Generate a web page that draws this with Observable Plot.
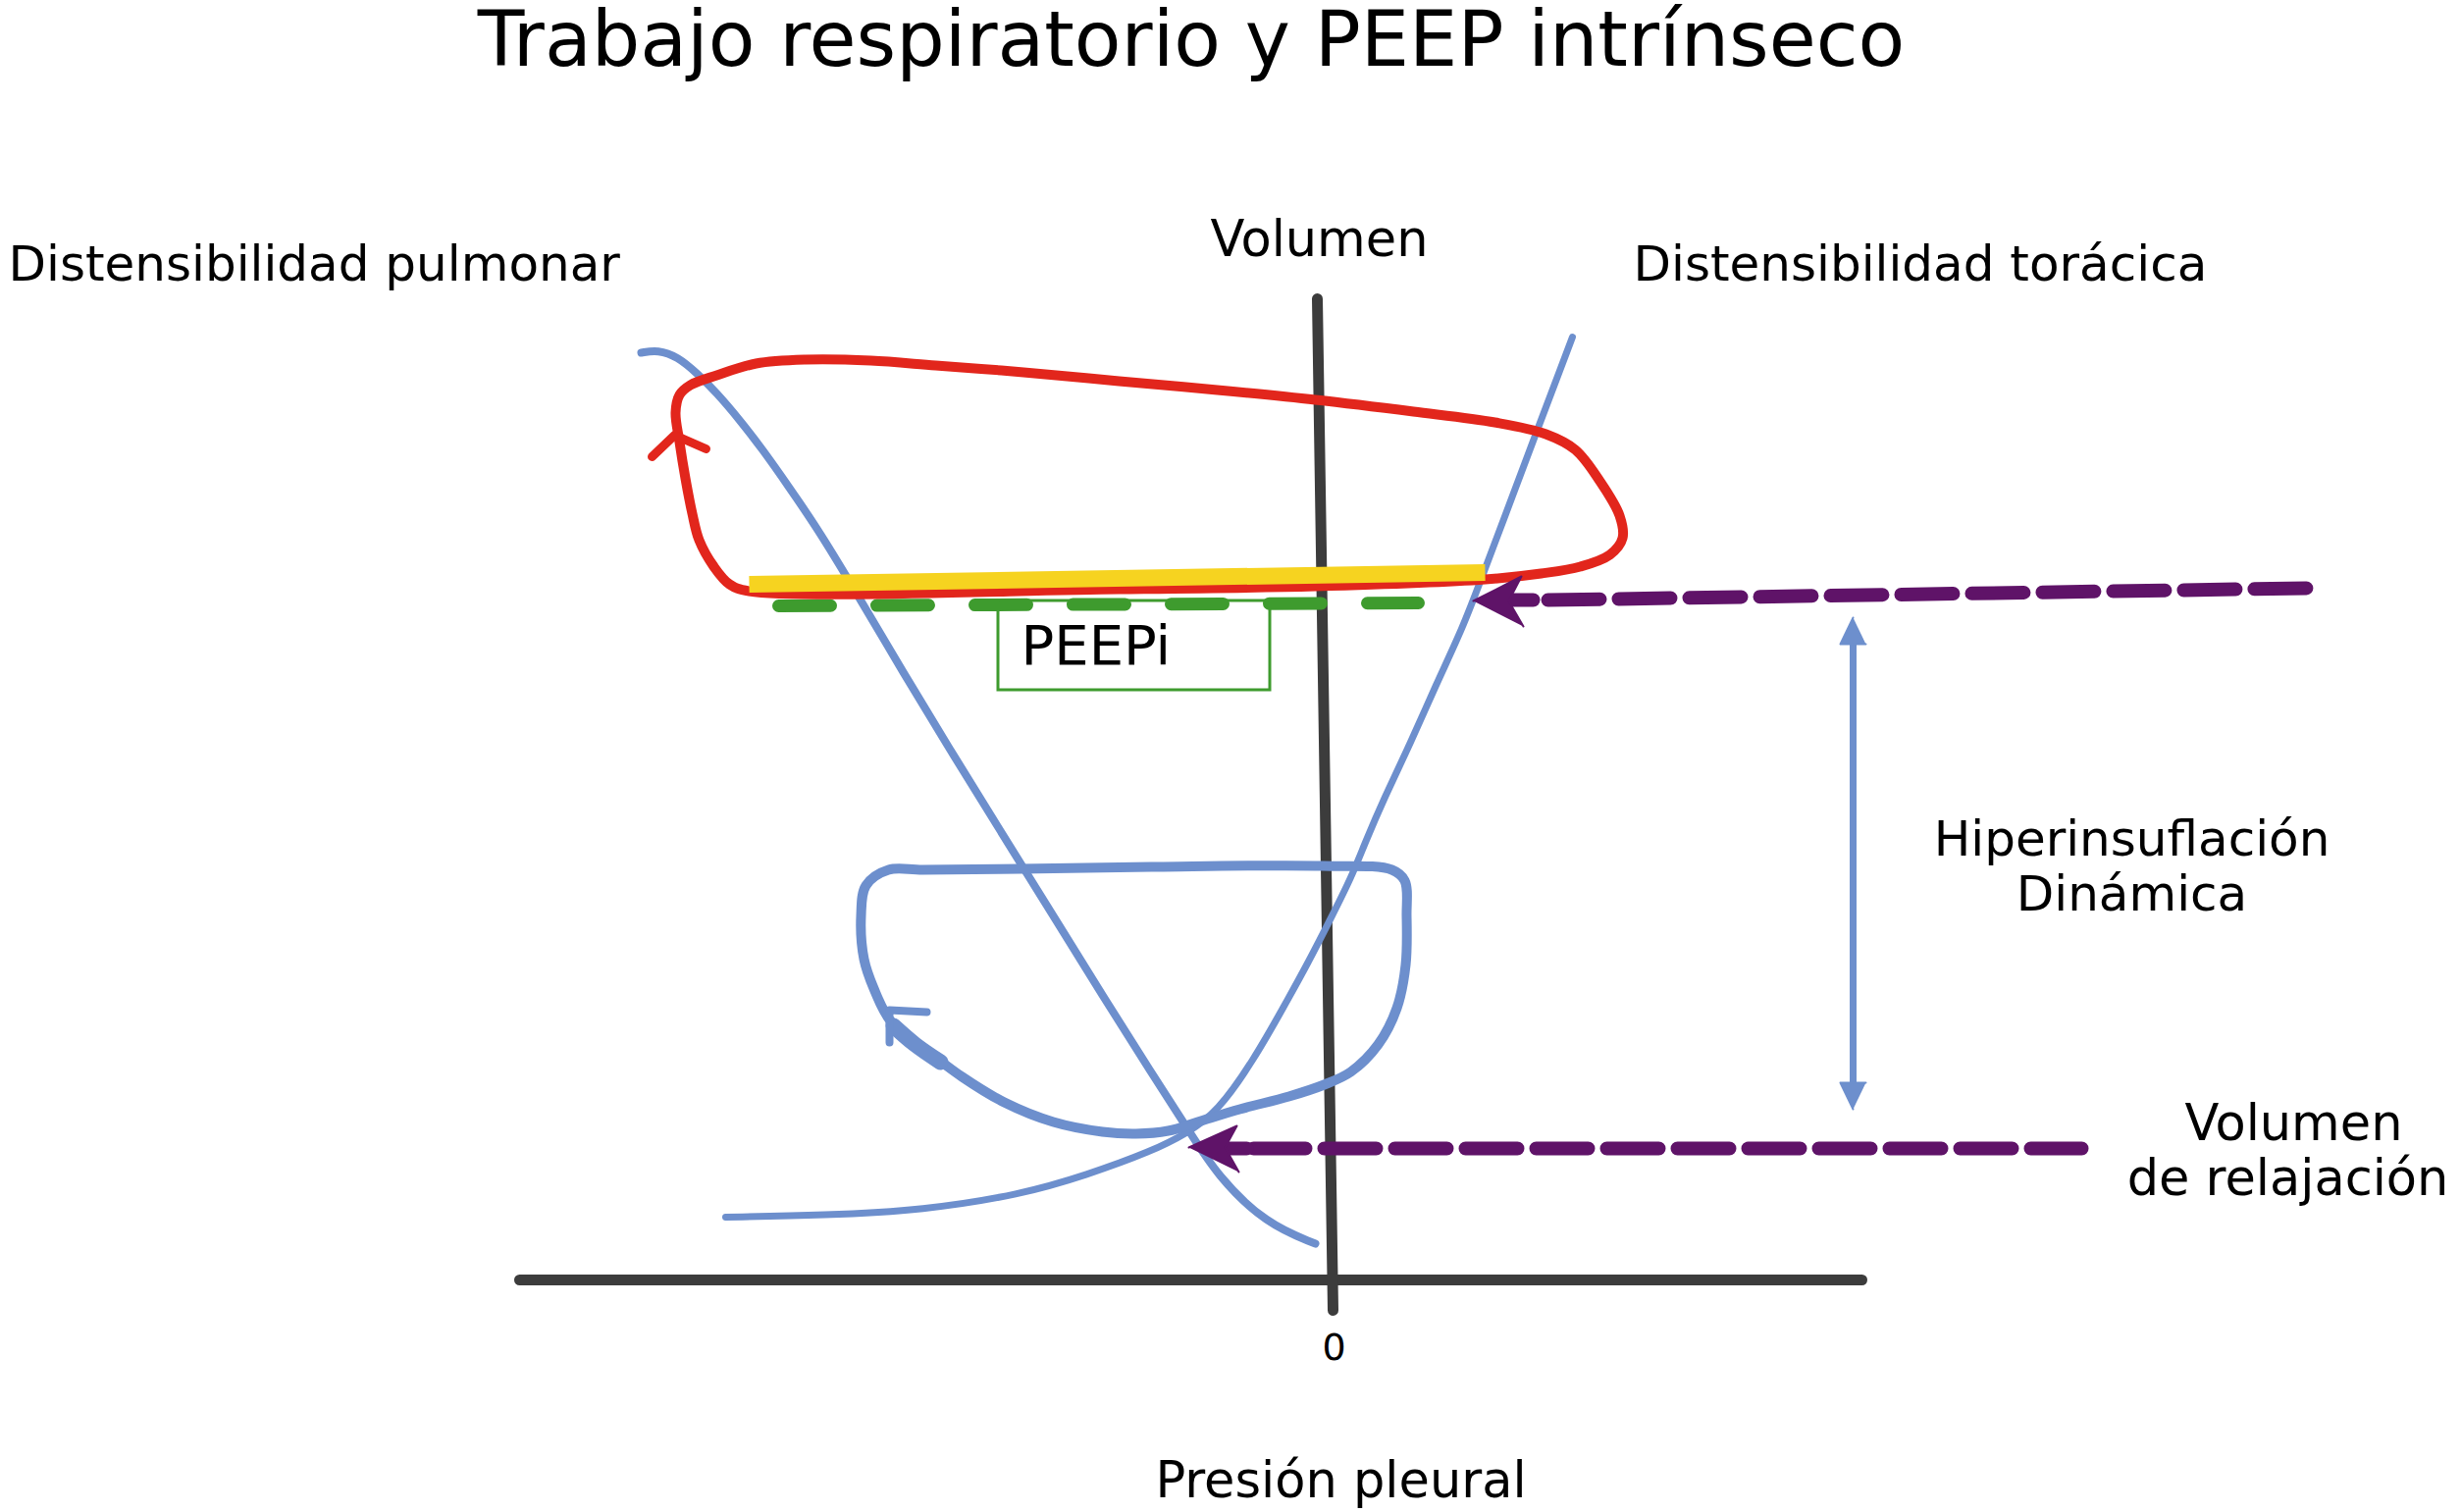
<!DOCTYPE html>
<html><head><meta charset="utf-8">
<script src="https://cdn.jsdelivr.net/npm/d3@7"></script>
<script src="https://cdn.jsdelivr.net/npm/@observablehq/plot@0.6"></script>
<style>
html,body{margin:0;padding:0;background:#fff;overflow:hidden}
#title{height:100px;font-family:"DejaVu Sans";font-size:78px;line-height:80px;text-align:center;padding-right:80px;color:#000;white-space:nowrap}
</style></head><body>
<div id="title">Trabajo respiratorio y PEEP intrínseco</div>
<div id="chart"></div>
<script>
// Diagram coordinates: x = presión pleural (0 at the volume axis), y = volumen (0 at the pressure axis)
const pressureAxis = [[-82.9, 0], [53.9, 0]];
const volumeAxis = [[-1.6, 100], [0, -3.1]];

const lungCompliance = [[-70.5,94.5],[-68.8,94.8],[-66.8,94.1],[-64.8,92.4],[-62.8,90.4],[-60.5,87.7],[-58.1,84.6],[-55.5,80.9],[-52.5,76.5],[-49.5,71.6],[-43.5,61.4],[-39.0,54.0],[-34.6,46.9],[-28.5,37.1],[-23.5,29.0],[-18.5,21.1],[-14.8,15.4],[-11.8,10.6],[-6.8,5.7],[-1.8,3.7]];

const chestCompliance = [[-61.9,6.4],[-51.8,6.6],[-41.8,7.1],[-31.8,8.7],[-25.1,10.7],[-18.5,13.1],[-14.8,15.0],[-11.8,17.1],[-8.1,22.4],[-5.1,27.7],[-2.5,32.4],[-0.1,37.1],[1.9,41.1],[3.2,44.4],[5.2,49.1],[7.9,54.7],[10.5,60.7],[13.2,66.4],[15.2,71.7],[17.2,77.0],[20.5,85.8],[24.4,96.1]];

const normalLoop = [[-20.1,14.9],[-23.5,15.1],[-28.5,16.1],[-33.5,18.1],[-37.8,20.7],[-41.8,23.7],[-45.1,26.4],[-46.8,29.7],[-47.8,32.7],[-48.1,37.1],[-47.6,40.2],[-45.3,41.8],[-41.8,41.8],[-31.8,41.9],[-18.5,42.1],[-1.1,42.2],[6.0,41.8],[7.3,40.7],[7.5,37.1],[7.4,32.1],[6.5,27.7],[4.6,24.0],[1.8,21.2],[-0.9,19.9],[-4.5,18.7],[-9.5,17.4],[-13.8,16.1],[-16.8,15.2]];
const normalLoopArrowBody = [[-44.8,25.9],[-42.6,24.0],[-40.0,22.2]];
const normalLoopArrowHead = [[-45.2,24.2],[-45.2,27.5],[-41.4,27.3]];

const hyperLoop = [[-59.5,70.2],[-61.5,70.9],[-63.1,72.7],[-64.6,75.4],[-65.3,78.1],[-66.0,81.7],[-66.6,85.4],[-67.0,88.4],[-66.6,90.2],[-65.5,91.2],[-62.8,92.2],[-58.8,93.4],[-53.8,93.8],[-47.1,93.7],[-40.5,93.2],[-33.8,92.7],[-27.1,92.1],[-21.8,91.6],[-11.8,90.7],[-1.8,89.7],[8.2,88.5],[16.5,87.4],[21.7,86.2],[24.7,84.6],[27.2,81.4],[29.2,77.9],[29.5,75.6],[28.2,73.9],[25.2,72.7],[21.2,72.0],[15.5,71.4],[-1.8,70.7],[-21.8,70.4]];
const hyperLoopArrow = [[-69.4,83.9],[-67.1,86.1],[-63.9,84.7]];

const peepSegment = [[-59.5,70.9],[15.5,72.1]];
const peepDashes = [[-56.5,68.7],[8.7,69.0]];
const peepBox = [{x1:-34.1, x2:-6.4, y1:60.1, y2:69.2}];

const endExpUpper = [[21.9,69.3],[99.2,70.5]];
const endExpUpperShaft = [[17.7,69.3],[20.4,69.3]];
const endExpUpperHead = [[14.3,69.2],[19.2,71.7],[17.9,69.2],[19.4,66.6]];
const relaxLower = [[-8.1,13.4],[76.3,13.4]];
const relaxLowerShaft = [[-11.3,13.4],[-8.8,13.4]];
const relaxLowerHead = [[-14.7,13.5],[-9.8,15.7],[-11.0,13.5],[-9.6,11.0]];

const hyperArrowShaft = [[53.0,65.0],[53.0,19.8]];
const hyperArrowTop = [[53.0,67.5],[51.7,64.8],[54.3,64.8]];
const hyperArrowBottom = [[53.0,17.4],[51.7,20.1],[54.3,20.1]];

const startLabels = [
  {p:-135.0, v:103.5, text:"Distensibilidad pulmonar", size:50},
  {p:30.6, v:103.5, text:"Distensibilidad torácica", size:50},
  {p:-31.8, v:64.5, text:"PEEPi", size:56}
];
const middleLabels = [
  {p:-1.4, v:106.0, text:"Volumen", size:51},
  {p:81.4, v:44.9, text:"Hiperinsuflación", size:50},
  {p:81.4, v:39.3, text:"Dinámica", size:50},
  {p:97.9, v:15.9, text:"Volumen", size:51},
  {p:97.3, v:10.3, text:"de relajación", size:51},
  {p:0.1, v:-6.9, text:"0", size:38},
  {p:0.8, v:-20.5, text:"Presión pleural", size:51}
];

const blue = "#6d8fcd", red = "#e2261c", yellow = "#f6d320", green = "#3e9b2e", purple = "#5f1368", axisColor = "#3c3c3c";
const X = d => d[0], Y = d => d[1];

const chart = Plot.plot({
  width: 2508,
  height: 1441,
  margin: 0,
  x: {domain: [-135.8, 115.0], axis: null},
  y: {domain: [-23.7, 120.4], axis: null},
  style: {fontFamily: "DejaVu Sans", background: "white", overflow: "visible"},
  marks: [
    Plot.line(pressureAxis, {x: X, y: Y, stroke: axisColor, strokeWidth: 11, strokeLinecap: "round"}),
    Plot.line(volumeAxis, {x: X, y: Y, stroke: axisColor, strokeWidth: 11, strokeLinecap: "round"}),
    Plot.line(peepDashes, {x: X, y: Y, stroke: green, strokeWidth: 13, strokeDasharray: "53,47"}),
    Plot.rect(peepBox, {x1: "x1", x2: "x2", y1: "y1", y2: "y2", fill: "none", stroke: green, strokeWidth: 3}),
    Plot.line(lungCompliance, {x: X, y: Y, curve: "basis", stroke: blue, strokeWidth: 8, strokeLinecap: "round"}),
    Plot.line(chestCompliance, {x: X, y: Y, curve: "basis", stroke: blue, strokeWidth: 7, strokeLinecap: "round"}),
    Plot.line(normalLoop, {x: X, y: Y, curve: "catmull-rom-closed", stroke: blue, strokeWidth: 10, strokeLinejoin: "round"}),
    Plot.line(normalLoopArrowBody, {x: X, y: Y, curve: "catmull-rom", stroke: blue, strokeWidth: 16, strokeLinecap: "round"}),
    Plot.line(normalLoopArrowHead, {x: X, y: Y, stroke: blue, strokeWidth: 8, strokeLinecap: "round", strokeLinejoin: "round"}),
    Plot.line(hyperLoop, {x: X, y: Y, curve: "catmull-rom-closed", stroke: red, strokeWidth: 10}),
    Plot.line(hyperLoopArrow, {x: X, y: Y, stroke: red, strokeWidth: 9, strokeLinecap: "round", strokeLinejoin: "round"}),
    Plot.line(peepSegment, {x: X, y: Y, stroke: yellow, strokeWidth: 17, strokeLinecap: "butt"}),
    Plot.line(endExpUpper, {x: X, y: Y, stroke: purple, strokeWidth: 14, strokeDasharray: "53,19"}),
    Plot.line(endExpUpperShaft, {x: X, y: Y, stroke: purple, strokeWidth: 14}),
    Plot.line(endExpUpperHead, {x: X, y: Y, fill: purple, stroke: purple, strokeWidth: 2}),
    Plot.line(relaxLower, {x: X, y: Y, stroke: purple, strokeWidth: 14, strokeDasharray: "53,19"}),
    Plot.line(relaxLowerShaft, {x: X, y: Y, stroke: purple, strokeWidth: 14}),
    Plot.line(relaxLowerHead, {x: X, y: Y, fill: purple, stroke: purple, strokeWidth: 2}),
    Plot.line(hyperArrowShaft, {x: X, y: Y, stroke: blue, strokeWidth: 7}),
    Plot.line(hyperArrowTop, {x: X, y: Y, fill: blue, stroke: blue, strokeWidth: 2}),
    Plot.line(hyperArrowBottom, {x: X, y: Y, fill: blue, stroke: blue, strokeWidth: 2}),
    Plot.text(startLabels, {x: "p", y: "v", text: "text", fontSize: d => d.size, textAnchor: "start", fill: "black"}),
    Plot.text(middleLabels, {x: "p", y: "v", text: "text", fontSize: d => d.size, textAnchor: "middle", fill: "black"})
  ]
});
document.getElementById("chart").appendChild(chart);
</script>
</body></html>
